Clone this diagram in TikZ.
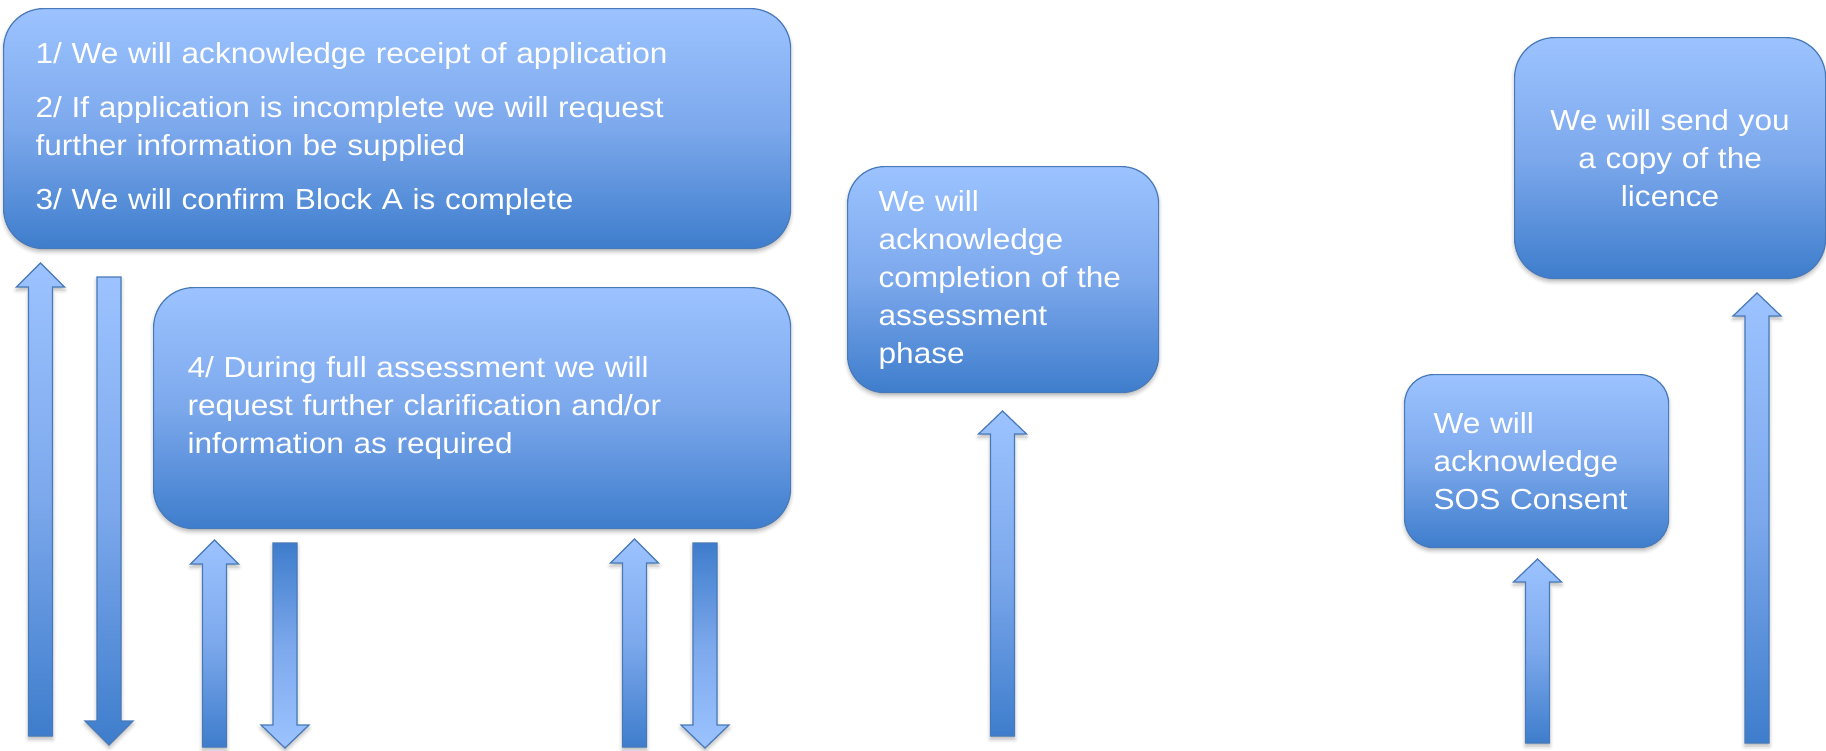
\documentclass[tikz,border=0pt]{standalone}
\usepackage{fontspec}
\setmainfont[FakeStretch=1.09]{Liberation Sans}
\usepackage{tikz}
\usetikzlibrary{shadows.blur}
\definecolor{flowLight}{RGB}{156,195,255}
\definecolor{flowMid}{RGB}{124,168,236}
\definecolor{flowDark}{RGB}{62,125,204}
\definecolor{flowEdge}{RGB}{72,122,186}
% one vertical block arrow: centre, tail, head base, tip, shading
\newcommand*\blockArrow[5]{%
    \draw[flow/arrow,flow/#5] (#1-12,#2) -- (#1-12,#3) -- (#1-24,#3) -- (#1,#4)
        -- (#1+24,#3) -- (#1+12,#3) -- (#1+12,#2) -- cycle;
}
\tikzset{flow/.cd,
         soft shadow/.style={blur shadow={shadow xshift=0pt,shadow yshift=-3pt,
                             shadow blur radius=4pt,shadow opacity=30}},
         box/.style={draw=flowEdge,line width=1.2pt,top color=flowLight,
                     bottom color=flowDark,middle color=flowMid,text=white,
                     align=left,anchor=north west,inner ysep=0pt,
                     font=\fontsize{29}{38}\selectfont,flow/soft shadow},
         arrow/.style={draw=flowEdge,line width=1.2pt,line join=miter,flow/soft shadow},
         light top/.style={top color=flowLight,bottom color=flowDark,middle color=flowMid},
         light bottom/.style={top color=flowDark,bottom color=flowLight,middle color=flowMid}}

\begin{document}
\begin{tikzpicture}[x=1pt,y=-1pt]
\useasboundingbox (0,0) rectangle (1826,750);

\node[flow/box,rounded corners=40pt,minimum width=787pt,minimum height=240pt,
      inner xsep=32pt,text width=723pt] (receiptBox) at (3,8)
    {1/ We will acknowledge receipt of application\\[16pt]
     2/ If application is incomplete we will request\\
     further information be supplied\\[16pt]
     3/ We will confirm Block A is complete};
\node[flow/box,rounded corners=40pt,minimum width=637pt,minimum height=241pt,
      inner xsep=34pt,text width=569pt] (clarifyBox) at (153,287)
    {4/ During full assessment we will\\
     request further clarification and/or\\
     information as required};
\node[flow/box,rounded corners=37pt,minimum width=311pt,minimum height=226pt,
      inner xsep=31pt,text width=249pt] (phaseBox) at (847,166)
    {We will\\acknowledge\\completion of the\\assessment\\phase};
\node[flow/box,rounded corners=29pt,minimum width=264pt,minimum height=173pt,
      inner xsep=29pt,text width=206pt] (sosBox) at (1404,374)
    {We will\\acknowledge\\SOS Consent};
\node[flow/box,rounded corners=40pt,minimum width=311pt,minimum height=241pt,
      inner xsep=15pt,text width=281pt,align=center] (licenceBox) at (1514,37)
    {We will send you\\a copy of the\\licence};

% block arrows under the boxes
\foreach \xc/\tail/\base/\tip/\shade in {40.5/736/287/263/light top,
                                         109/277/721/745/light top,
                                         214.5/747/564/540/light top,
                                         285/543/725/748/light bottom,
                                         634.5/747/563/539/light top,
                                         705/543/725/748/light bottom,
                                         1002.5/736/434/411/light top,
                                         1537.5/743/582/559/light top,
                                         1757/743/316/293/light top}
    {\blockArrow{\xc}{\tail}{\base}{\tip}{\shade}}
\end{tikzpicture}
\end{document}
